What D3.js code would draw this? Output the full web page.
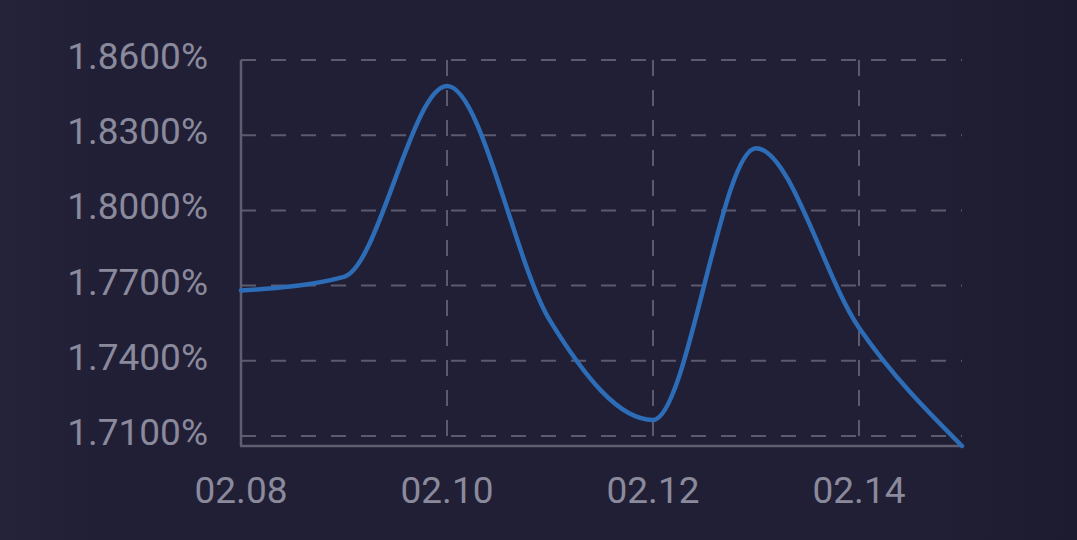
<!DOCTYPE html>
<html>
<head>
<meta charset="utf-8">
<script src="https://cdn.jsdelivr.net/npm/d3@7"></script>
<style>
html,body{margin:0;padding:0;background:#201f35;}
svg{display:block;}
</style>
</head>
<body>
<svg id="chart" width="1077" height="540"></svg>
<script>
const dates = ["02.08","02.09","02.10","02.11","02.12","02.13","02.14","02.15"];
const rates = [1.7680, 1.7735, 1.8496, 1.7560, 1.7164, 1.8248, 1.7532, 1.7060];
const xTickLabels = ["02.08","02.10","02.12","02.14"];
const yTickValues = [1.71, 1.74, 1.77, 1.80, 1.83, 1.86];

const W = 1077, H = 540;
const svg = d3.select("#chart");

const defs = svg.append("defs");
const grad = defs.append("linearGradient").attr("id","bg").attr("x1","0").attr("x2","1").attr("y1","0").attr("y2","0");
grad.append("stop").attr("offset","0").attr("stop-color","#24233a");
grad.append("stop").attr("offset","0.1").attr("stop-color","#211f36");
grad.append("stop").attr("offset","0.85").attr("stop-color","#201f35");
grad.append("stop").attr("offset","1").attr("stop-color","#1c1b2f");
svg.append("rect").attr("width",W).attr("height",H).attr("fill","url(#bg)");

const x = d3.scalePoint().domain(dates).range([241, 962]);
const y = d3.scaleLinear().domain([1.706, 1.86]).range([446, 60]);

const gridColor = "#5c5b6e";
const textColor = "#8b8a9c";

// horizontal dashed gridlines
svg.append("g").selectAll("line").data(yTickValues).join("line")
  .attr("x1", 241).attr("x2", 962)
  .attr("y1", d => y(d)).attr("y2", d => y(d))
  .attr("stroke", gridColor).attr("stroke-width", 2)
  .attr("stroke-dasharray", "15,15");

// vertical dashed gridlines
svg.append("g").selectAll("line").data(xTickLabels.slice(1)).join("line")
  .attr("x1", d => x(d)).attr("x2", d => x(d))
  .attr("y1", y(1.86)).attr("y2", y(1.71))
  .attr("stroke", gridColor).attr("stroke-width", 2)
  .attr("stroke-dasharray", "16,14");

// axes lines
svg.append("line").attr("x1", 241).attr("x2", 241).attr("y1", y(1.86)).attr("y2", y(1.706))
  .attr("stroke", "#5f5e71").attr("stroke-width", 2.5);
svg.append("line").attr("x1", 240).attr("x2", 963).attr("y1", y(1.706)).attr("y2", y(1.706))
  .attr("stroke", "#5f5e71").attr("stroke-width", 2.5);

// y labels
svg.append("g").selectAll("text").data(yTickValues).join("text")
  .attr("x", 208).attr("y", d => y(d) + 9)
  .attr("text-anchor", "end")
  .attr("font-family", "Roboto, 'DejaVu Sans', sans-serif")
  .attr("font-size", 37)
  .attr("fill", textColor)
  .text(d => d.toFixed(4) + "%");

// x labels
svg.append("g").selectAll("text").data(xTickLabels).join("text")
  .attr("x", d => x(d)).attr("y", 503)
  .attr("text-anchor", "middle")
  .attr("font-family", "Roboto, 'DejaVu Sans', sans-serif")
  .attr("font-size", 37)
  .attr("fill", textColor)
  .text(d => d);

// line
const line = d3.line()
  .x((d, i) => x(dates[i]))
  .y(d => y(d))
  .curve(d3.curveMonotoneX);

svg.append("path").datum(rates)
  .attr("d", line)
  .attr("fill", "none")
  .attr("stroke", "#2d6cb6")
  .attr("stroke-width", 4.5)
  .attr("stroke-linejoin", "round")
  .attr("stroke-linecap", "round");
</script>
</body>
</html>
